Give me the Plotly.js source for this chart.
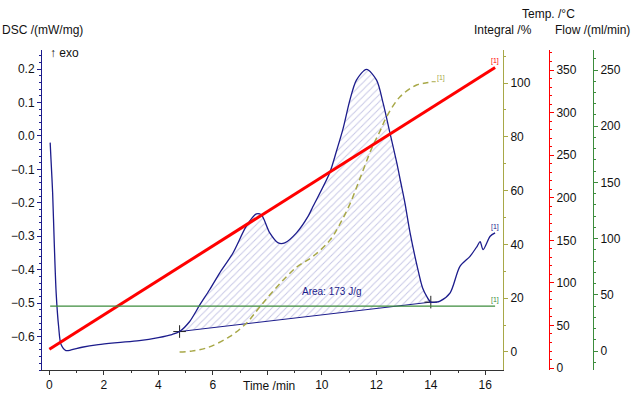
<!DOCTYPE html>
<html>
<head>
<meta charset="utf-8">
<script src="https://cdn.plot.ly/plotly-3.0.1.min.js"></script>
<style>html,body{margin:0;padding:0;background:#fff;}#chart{width:640px;height:399px;}</style>
</head>
<body>
<div id="chart"></div>
<script>
// ---- data ----
var dscTime = [0.03,0.06,0.12,0.18,0.25,0.34,0.43,0.61,0.8,1.2,1.8,2.5,3.3,4.0,4.5,4.78,5.15,5.51,5.88,6.25,6.74,7.23,7.6,7.78,8.09,8.4,8.64,9.07,9.5,9.67,10.29,10.55,10.78,11.03,11.27,11.64,12.01,12.25,12.5,12.75,12.9,13.05,13.24,13.5,13.7,13.85,14.0,14.2,14.34,14.71,15.07,15.44,15.7,15.81,15.92,16.18,16.36];
var dscValue = [-0.02,-0.07,-0.17,-0.32,-0.47,-0.57,-0.624,-0.642,-0.64,-0.632,-0.624,-0.618,-0.612,-0.603,-0.594,-0.585,-0.555,-0.507,-0.46,-0.41,-0.35,-0.27,-0.233,-0.236,-0.29,-0.32,-0.32,-0.29,-0.24,-0.212,-0.11,-0.042,0.022,0.107,0.167,0.199,0.167,0.098,0.009,-0.08,-0.14,-0.2,-0.29,-0.39,-0.455,-0.48,-0.497,-0.497,-0.494,-0.469,-0.39,-0.36,-0.33,-0.316,-0.34,-0.30,-0.29];

var intTime = [4.78,5.2,5.77,6.6,7.24,7.72,8.35,9.08,9.67,10.29,10.66,11.03,11.4,11.83,12.13,12.38,12.87,13.48,13.85,14.03];
var intValue = [0,0.3,1.5,5.6,10.8,16.7,24.2,31.6,35.5,41.5,47.5,55,64.5,75.7,82,87.5,94.9,99.3,100.1,100.5];

var tempTime = [0.0, 16.36];
var tempValue = [22, 353];

var flowTime = [0.03, 16.36];
var flowValue = [40, 40];

var baseTime = [4.78, 14.0];
var baseDsc = [-0.585, -0.497];

var areaLabel = "Area: 173 J/g";
var areaPos = [10.35, -0.488];

var xTicks = [0,2,4,6,8,10,12,14,16];
var xTickText = ['0','2','4','6','','10','12','14','16'];
var dscTicks = [-0.6,-0.5,-0.4,-0.3,-0.2,-0.1,0.0,0.1,0.2];
// ---- end data ----

var BLUE = '#1c1c8c', OLIVE = '#a8a848', RED = '#ff0000', GREEN = '#3c8c3c';
var FONT = 'Liberation Sans, Arial, sans-serif';

// fill polygon built from DSC samples inside the integration range
var fillT = [], fillY = [];
for (var i = 0; i < dscTime.length; i++) {
  if (dscTime[i] >= baseTime[0] - 1e-9 && dscTime[i] <= baseTime[1] + 1e-9) { fillT.push(dscTime[i]); fillY.push(dscValue[i]); }
}

var traces = [
  {x: fillT, y: fillY, type: 'scatter', mode: 'lines', fill: 'toself', line: {width: 0},
   fillcolor: 'rgba(0,0,0,0)',
   fillpattern: {shape: '/', fgcolor: '#c8c8e6', bgcolor: 'rgba(255,255,255,0)', size: 5, solidity: 0.2},
   xaxis: 'x', yaxis: 'y', hoverinfo: 'skip', showlegend: false},
  {x: baseTime, y: baseDsc, type: 'scatter', mode: 'lines+markers', line: {color: BLUE, width: 1},
   marker: {symbol: 'cross-thin', size: 9, line: {color: '#222', width: 1}},
   xaxis: 'x', yaxis: 'y', showlegend: false},
  {x: dscTime, y: dscValue, type: 'scatter', mode: 'lines', line: {color: BLUE, width: 1.3, shape: 'spline', smoothing: 0.8},
   xaxis: 'x', yaxis: 'y', showlegend: false},
  {x: intTime, y: intValue, type: 'scatter', mode: 'lines', line: {color: OLIVE, width: 1.5, dash: '6px,4px', shape: 'spline', smoothing: 1},
   xaxis: 'x', yaxis: 'y2', showlegend: false},
  {x: flowTime, y: flowValue, type: 'scatter', mode: 'lines', line: {color: GREEN, width: 1.3},
   xaxis: 'x', yaxis: 'y4', showlegend: false},
  {x: tempTime, y: tempValue, type: 'scatter', mode: 'lines', line: {color: RED, width: 3},
   xaxis: 'x', yaxis: 'y3', showlegend: false}
];

function yax(color, range, dtick, minorDt, extra) {
  var a = {range: range, dtick: dtick, tick0: 0, showgrid: false, zeroline: false, showline: true,
    linecolor: color, linewidth: 1, ticks: 'outside', ticklen: 4, tickcolor: color, tickwidth: 1,
    tickfont: {family: FONT, size: 12, color: '#111'},
    minor: {dtick: minorDt, tick0: 0, ticklen: 2, tickcolor: color, ticks: 'outside', showgrid: false}};
  for (var k in extra) a[k] = extra[k];
  return a;
}

var xEnd = (503 - 42) / 598;
var layout = {
  width: 640, height: 399,
  margin: {l: 42, r: 0, t: 50, b: 29},
  paper_bgcolor: '#fff', plot_bgcolor: '#fff',
  showlegend: false,
  font: {family: FONT, size: 12, color: '#111'},
  xaxis: {domain: [0, xEnd], range: [-0.27, 16.65], tickvals: xTicks, ticktext: xTickText, showgrid: false, zeroline: false,
    showline: true, linecolor: '#333', ticks: 'outside', ticklen: 4, tickcolor: '#333',
    tickfont: {family: FONT, size: 12, color: '#111'},
    minor: {dtick: 1, tick0: 0, ticklen: 2, tickcolor: '#333', ticks: 'outside', showgrid: false}},
  yaxis: yax(BLUE, [-0.70, 0.257], 0.1, 0.02, {side: 'left', tickvals: dscTicks, tickformat: '.1f',
    minor: {dtick: 0.02, tick0: 0, ticklen: 2, tickcolor: BLUE, ticks: 'outside', showgrid: false}}),
  yaxis2: yax(OLIVE, [-6.7, 112.3], 20, 10, {overlaying: 'y', side: 'right', anchor: 'x'}),
  yaxis3: yax(RED, [-2.3, 373.5], 50, 10, {overlaying: 'y', side: 'right', anchor: 'free', position: (549 - 42) / 598}),
  yaxis4: yax(GREEN, [-16.9, 267.8], 50, 10, {overlaying: 'y', side: 'right', anchor: 'free', position: (593 - 42) / 598}),
  annotations: [
    {text: 'DSC /(mW/mg)', xref: 'paper', yref: 'paper', x: -42 / 598, y: (370 - 30) / 320, xanchor: 'left', yanchor: 'middle', showarrow: false, font: {size: 12}},
    {text: 'Integral /%', xref: 'paper', yref: 'paper', x: (534 - 42) / 598, y: (370 - 30) / 320, xanchor: 'right', yanchor: 'middle', showarrow: false, font: {size: 12}},
    {text: 'Temp. /°C', xref: 'paper', yref: 'paper', x: (577 - 42) / 598, y: (370 - 14) / 320, xanchor: 'right', yanchor: 'middle', showarrow: false, font: {size: 12}},
    {text: 'Flow /(ml/min)', xref: 'paper', yref: 'paper', x: (553 - 42) / 598, y: (370 - 30) / 320, xanchor: 'left', yanchor: 'middle', showarrow: false, font: {size: 12}},
    {text: 'Time /min', xref: 'paper', yref: 'paper', x: (269 - 42) / 598, y: (370 - 386) / 320, xanchor: 'center', yanchor: 'middle', showarrow: false, font: {size: 12}},
    {text: '↑ exo', xref: 'paper', yref: 'paper', x: (48 - 42) / 598, y: (370 - 53) / 320, xanchor: 'left', yanchor: 'middle', showarrow: false, font: {size: 12}},
    {text: areaLabel, xref: 'x', yref: 'y', x: areaPos[0], y: areaPos[1], xanchor: 'center', yanchor: 'bottom', showarrow: false, font: {size: 10, color: BLUE}},
    {text: '[1]', xref: 'x', yref: 'y3', x: tempTime[1], y: tempValue[1], xanchor: 'center', yanchor: 'bottom', yshift: 0, showarrow: false, font: {size: 7, color: RED}},
    {text: '[1]', xref: 'x', yref: 'y2', x: intTime[intTime.length - 1], y: intValue[intValue.length - 1], xanchor: 'left', yanchor: 'bottom', xshift: 3, yshift: -2, showarrow: false, font: {size: 7, color: OLIVE}},
    {text: '[1]', xref: 'x', yref: 'y', x: dscTime[dscTime.length - 1], y: dscValue[dscValue.length - 1], xanchor: 'center', yanchor: 'bottom', yshift: 0, showarrow: false, font: {size: 7, color: BLUE}},
    {text: '[1]', xref: 'x', yref: 'y4', x: flowTime[1], y: flowValue[1], xanchor: 'center', yanchor: 'bottom', yshift: 0, showarrow: false, font: {size: 7, color: GREEN}}
  ],
  shapes: [
    {type: 'line', xref: 'x', yref: 'y2', x0: intTime[intTime.length - 1], x1: intTime[intTime.length - 1] + 0.15, y0: intValue[intValue.length - 1], y1: intValue[intValue.length - 1], line: {color: OLIVE, width: 1}}
  ]
};

Plotly.newPlot('chart', traces, layout, {staticPlot: true, displayModeBar: false});
</script>
</body>
</html>
